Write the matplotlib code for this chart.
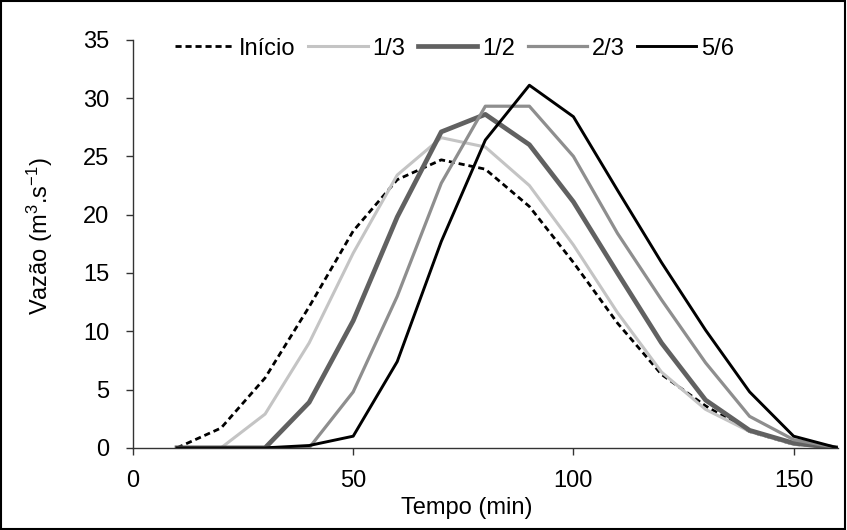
import matplotlib
matplotlib.use('Agg')
import matplotlib.pyplot as plt
from matplotlib.patches import Rectangle

plt.rcParams['font.family'] = 'Liberation Sans'
plt.rcParams['mathtext.fontset'] = 'custom'
plt.rcParams['mathtext.rm'] = 'Liberation Sans'
plt.rcParams['mathtext.it'] = 'Liberation Sans'

# tempo (min)
tempo = [10, 20, 30, 40, 50, 60, 70, 80, 90, 100, 110, 120, 130, 140, 150, 160]

# vazao (m3/s) por serie
inicio = [0, 1.7, 6.0, 12.1, 18.6, 23.0, 24.7, 23.9, 20.7, 15.9, 10.7, 6.3, 3.6, 1.4, 0.3, 0]
um_terco = [0, 0, 2.9, 9.0, 16.7, 23.4, 26.6, 25.8, 22.5, 17.4, 11.6, 6.5, 3.3, 1.4, 0.3, 0]
metade = [0, 0, 0, 3.9, 10.9, 19.8, 27.1, 28.6, 26.0, 21.1, 15.0, 9.0, 4.1, 1.5, 0.4, 0]
dois_tercos = [0, 0, 0, 0, 4.8, 13.0, 22.7, 29.3, 29.3, 25.0, 18.4, 12.7, 7.3, 2.7, 0.7, 0]
cinco_sextos = [0, 0, 0, 0.2, 1.0, 7.4, 17.7, 26.4, 31.1, 28.4, 22.1, 15.9, 10.1, 4.8, 1.0, 0]

fs = 17

fig = plt.figure(figsize=(8.47, 5.30), dpi=100)
ax = fig.add_axes([0.157, 0.155, 0.832, 0.77])

ax.plot(tempo, inicio, color='black', linestyle=(0, (2.2, 1.4)), linewidth=2.0, label='Início')
ax.plot(tempo, um_terco, color='#c4c4c4', linewidth=2.2, label='1/3')
ax.plot(tempo, metade, color='#616161', linewidth=3.4, label='1/2')
ax.plot(tempo, dois_tercos, color='#8e8e8e', linewidth=2.3, label='2/3')
ax.plot(tempo, cinco_sextos, color='black', linewidth=2.1, label='5/6')

ax.set_xlim(0, 160)
ax.set_ylim(0, 35)
ax.set_xticks([0, 50, 100, 150])
ax.set_yticks(range(0, 36, 5))

ax.spines['top'].set_visible(False)
ax.spines['right'].set_visible(False)
ax.spines['left'].set_linewidth(1.0)
ax.spines['bottom'].set_linewidth(1.0)
ax.spines['left'].set_color('#333333')
ax.spines['bottom'].set_color('#333333')
ax.tick_params(direction='out', length=5, width=1.0, colors='#333333',
               labelcolor='black', labelsize=fs)
ax.tick_params(axis='y', pad=12)
ax.tick_params(axis='x', pad=11)

ax.set_xlabel('Tempo (min)', fontsize=fs)
ax.set_ylabel('Vazão (m$^3$.s$^{-1}$)', fontsize=fs)
ax.xaxis.set_label_coords(0.473, -0.12)
ax.yaxis.set_label_coords(-0.11, 0.52)

ax.legend(ncol=5, loc='center left', bbox_to_anchor=(0.06, 0.978), frameon=False,
          fontsize=fs, handlelength=2.5, handletextpad=0.2, columnspacing=0.55,
          borderpad=0, borderaxespad=0)

fig.add_artist(Rectangle((0.001, 0.002), 0.997, 0.996, transform=fig.transFigure,
                         fill=False, edgecolor='black', linewidth=1.5))

fig.savefig('out.png', dpi=100)
